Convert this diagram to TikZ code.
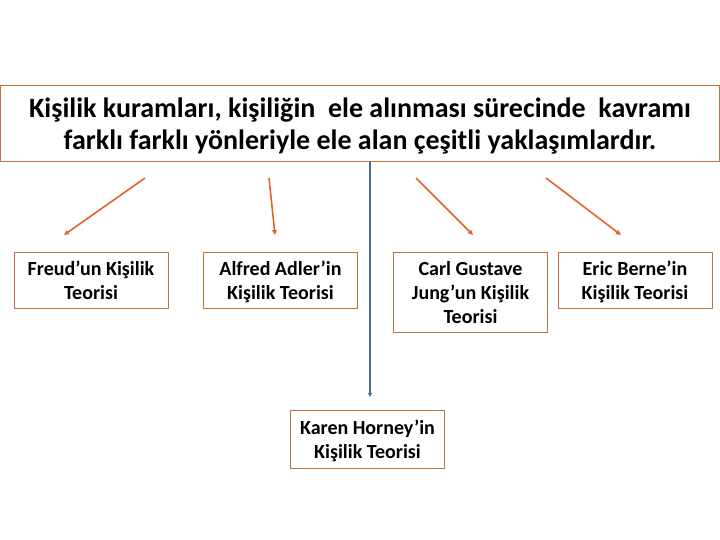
\documentclass[tikz,border=0pt]{standalone}
\usepackage{fontspec}
\setmainfont{Carlito}
\usetikzlibrary{arrows.meta,positioning}
\definecolor{boxbrown}{RGB}{196,112,62}
\definecolor{linkorange}{RGB}{226,98,40}
\definecolor{linkblue}{RGB}{72,108,150}
\tikzset{
  theory/.style={draw=boxbrown, line width=0.9pt, align=center, inner sep=0pt, text depth=0pt,
    minimum width=154pt, minimum height=56pt, font=\bfseries\fontsize{20}{24}\selectfont},
  link/.style={draw=linkorange, line width=1.6pt, -{Triangle[length=5pt,width=4.5pt]}},
  downlink/.style={draw=linkblue, line width=1.2pt, -{Triangle[length=4pt,width=4pt]}}
}

\begin{document}
\begin{tikzpicture}[x=1pt, y=-1pt]
  \useasboundingbox (0,0) rectangle (720,540);

  \node [draw=boxbrown, line width=1pt, minimum width=719pt, minimum height=76pt, align=center,
    text depth=0pt, font=\bfseries\fontsize{28}{32}\selectfont] (def) at (360,124)
    {Kişilik kuramları, kişiliğin\ \ ele alınması sürecinde\ \ kavramı\\
     farklı farklı yönleriyle ele alan çeşitli yaklaşımlardır.};

  \node [theory] (freud) at (91,280) {Freud’un Kişilik\\Teorisi};
  \node [theory] (adler) at (280.5,280) {Alfred Adler’in\\Kişilik Teorisi};
  \node [theory, minimum height=80pt] (jung) at (470.5,292) {Carl Gustave\\Jung’un Kişilik\\Teorisi};
  \node [theory] (berne) at (635,280) {Eric Berne’in\\Kişilik Teorisi};
  \node [theory, minimum height=58pt] (horney) at (367.5,439) {Karen Horney’in\\Kişilik Teorisi};

  % arrow ends
  \coordinate (f1) at (145,178);  \coordinate (f2) at (64,235);
  \coordinate (a1) at (269,178);  \coordinate (a2) at (275,235);
  \coordinate (j1) at (416,178);  \coordinate (j2) at (473,235);
  \coordinate (b1) at (546,178);  \coordinate (b2) at (621,235);
  \coordinate (h1) at (370,162);  \coordinate (h2) at (370,397);

  \draw [link] (f1) -- (f2);
  \draw [link] (a1) -- (a2);
  \draw [link] (j1) -- (j2);
  \draw [link] (b1) -- (b2);
  \draw [downlink] (h1) -- (h2);
\end{tikzpicture}
\end{document}
